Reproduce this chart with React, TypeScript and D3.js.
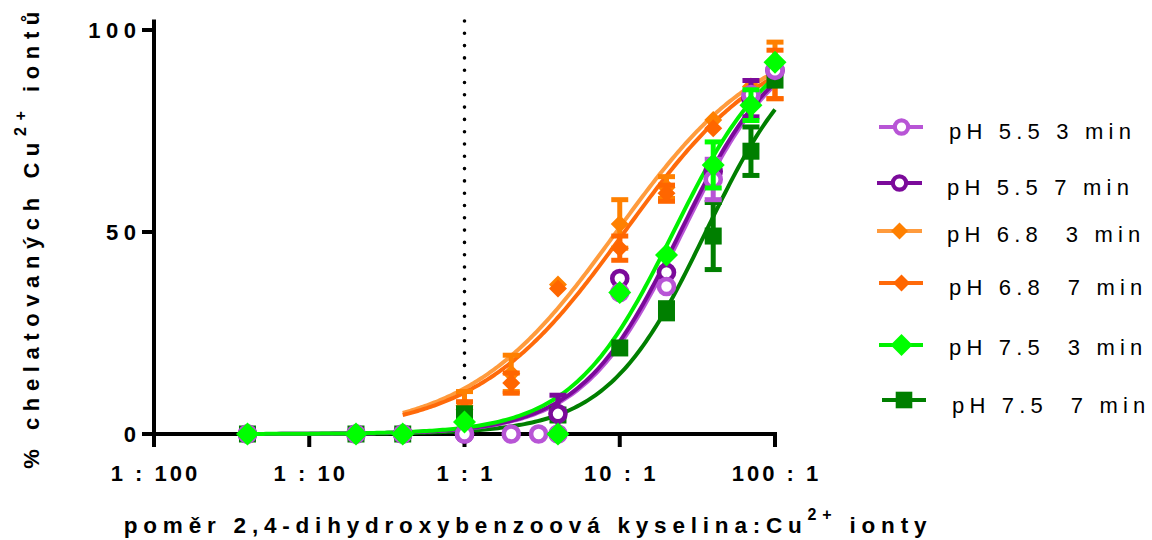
import React from 'react';
import * as d3 from 'd3';

// Molar ratio ligand : Cu2+ at which each sample was measured
const ratios = [0.04, 0.2, 0.4, 1, 2, 3, 4, 10, 20, 40, 70, 100];

// % chelated Cu2+ (mean) and error bar half-heights, null = not measured
const ph55_3min = [0, 0, 0, 0, 0, 0, 0, 35, 36.5, 63, 84, 90];
const ph55_3min_err = [0, 0, 0, 0, 0, 0, 0, 0, 0, 5, 0, 0];
const ph55_7min = [0, 0, 0, 0, null, null, 5, 38.5, 40, 65, 83, 90];
const ph55_7min_err = [0, 0, 0, 0, 0, 0, 4.6, 0, 0, 0, 4.5, 0];
const ph68_3min = [null, null, 0, 7, 15, null, 37, 52, 61, 77.7, 86, 90];
const ph68_3min_err = [0, 0, 0, 3.5, 4.5, 0, 0, 6, 2.7, 0, 0, 7];
const ph68_7min = [null, null, 0, 6, 12.6, null, 36, 46, 59.6, 75.7, 85, 89];
const ph68_7min_err = [0, 0, 0, 2, 2.5, 0, 0, 3, 2, 0, 0, 6];
const ph75_3min = [0, 0, 0, 3, null, null, 0, 35, 44.3, 66.6, 81.4, 92];
const ph75_3min_err = [0, 0, 0, 0, 0, 0, 0, 0, 0, 5.7, 3.8, 0];
const ph75_7min = [0, 0, 0, 5, null, null, 4.7, 21.3, 30.5, 49, 70, 87.6];
const ph75_7min_err = [0, 0, 0, 0, 0, 0, 0, 0, 2, 8.3, 6, 0];

// Sigmoidal dose-response fits (bottom 0, top 100): log EC50 and Hill slope
const fitLogEC50 = [1.405, 1.39, 0.978, 1.03, 1.346, 1.554];
const fitHill = [1.35, 1.35, 0.915, 0.915, 1.335, 1.37];

const seriesLabels = ['pH 5.5 3 min', 'pH 5.5 7 min', 'pH 6.8  3 min', 'pH 6.8  7 min', 'pH 7.5  3 min', 'pH 7.5  7 min'];

// Axis ticks
const xTickValues = [0.01, 0.1, 1, 10, 100];
const xTickLabels = ['1 : 100', '1 : 10', '1 : 1', '10 : 1', '100 : 1'];
const yTickValues = [0, 50, 100];

type Shape = 'circle' | 'diamond' | 'square';
interface Series {
  label: string;
  values: (number | null)[];
  err: number[];
  line: string;
  marker: string;
  shape: Shape;
  size: number;
  ec50: number;
  hill: number;
}

const styles = [
  { line: '#B855D6', marker: '#B855D6', shape: 'circle' as Shape, size: 9.8 },
  { line: '#7B0A9A', marker: '#7B0A9A', shape: 'circle' as Shape, size: 9.8 },
  { line: '#FF9B3D', marker: '#FF8000', shape: 'diamond' as Shape, size: 9 },
  { line: '#FF6A0A', marker: '#FF6600', shape: 'diamond' as Shape, size: 9 },
  { line: '#00F000', marker: '#00FF00', shape: 'diamond' as Shape, size: 11.5 },
  { line: '#007F00', marker: '#007F00', shape: 'square' as Shape, size: 8.5 },
];

const valueSets = [ph55_3min, ph55_7min, ph68_3min, ph68_7min, ph75_3min, ph75_7min];
const errSets = [ph55_3min_err, ph55_7min_err, ph68_3min_err, ph68_7min_err, ph75_3min_err, ph75_7min_err];

const series: Series[] = seriesLabels.map((label, i) => ({
  label,
  values: valueSets[i],
  err: errSets[i],
  ...styles[i],
  ec50: fitLogEC50[i],
  hill: fitHill[i],
}));

const FONT = "Arial, 'Liberation Sans', sans-serif";

const xScale = d3.scaleLog().domain([0.01, 100]).range([154, 775]);
const yScale = d3.scaleLinear().domain([0, 100]).range([434, 30]);

function fitCurve(s: Series): [number, number][] {
  const xs = ratios.filter((_, i) => s.values[i] !== null);
  const lo = Math.log10(d3.min(xs)!);
  const hi = Math.log10(d3.max(xs)!);
  return d3.range(0, 201).map((k) => {
    const lx = lo + ((hi - lo) * k) / 200;
    const v = 100 / (1 + Math.pow(10, (s.ec50 - lx) * s.hill));
    return [Math.pow(10, lx), v];
  });
}

const lineGen = d3
  .line<[number, number]>()
  .x((d) => xScale(d[0]))
  .y((d) => yScale(d[1]))
  .curve(d3.curveLinear);

function Marker({ shape, cx, cy, size, color }: { shape: Shape; cx: number; cy: number; size: number; color: string }) {
  if (shape === 'circle') {
    // size = outer radius of the ring
    const sw = size * 0.47;
    return <circle cx={cx} cy={cy} r={size - sw / 2} fill="white" stroke={color} strokeWidth={sw} />;
  }
  if (shape === 'diamond') {
    const d = `M${cx},${cy - size}L${cx + size},${cy}L${cx},${cy + size}L${cx - size},${cy}Z`;
    return <path d={d} fill={color} />;
  }
  return <rect x={cx - size} y={cy - size} width={size * 2} height={size * 2} fill={color} />;
}

// Legend layout: row centre y, line start/end, marker x, text x, text baseline
const legendRows = [
  { cy: 127, x0: 879, x1: 923, mx: 901.5, tx: 949, ty: 139 },
  { cy: 183, x0: 877, x1: 922, mx: 899.5, tx: 947, ty: 195 },
  { cy: 231, x0: 877, x1: 922, mx: 899.5, tx: 947, ty: 242 },
  { cy: 283, x0: 879, x1: 923, mx: 901.5, tx: 949, ty: 295 },
  { cy: 345, x0: 879, x1: 923, mx: 901.5, tx: 949, ty: 355 },
  { cy: 400, x0: 882, x1: 926, mx: 904, tx: 952, ty: 413 },
];
const legendSizes = [8.7, 8.7, 8.5, 8.5, 11, 8.3];

// Order in which point sets are stacked (last on top)
const pointOrder = [2, 3, 5, 1, 0, 4];
const curveOrder = [2, 3, 5, 0, 1, 4];

export default function App() {
  const axisY0 = yScale(0);
  return (
    <svg
      width={1152}
      height={540}
      viewBox="0 0 1152 540"
      style={{ position: 'absolute', left: 0, top: 0, background: 'white' }}
    >
      <rect x={0} y={0} width={1152} height={540} fill="white" />

      {/* reference line at equimolar ratio */}
      <line
        x1={xScale(1)}
        x2={xScale(1)}
        y1={21}
        y2={axisY0}
        stroke="black"
        strokeWidth={3.6}
        strokeLinecap="round"
        strokeDasharray="0 12.3"
      />

      {/* axes */}
      <line x1={154} x2={154} y1={yScale(102.6)} y2={447} stroke="black" strokeWidth={4} />
      <line x1={142} x2={777} y1={axisY0} y2={axisY0} stroke="black" strokeWidth={4} />
      {yTickValues.map((v) => (
        <g key={`yt${v}`}>
          <line x1={142} x2={154} y1={yScale(v)} y2={yScale(v)} stroke="black" strokeWidth={4} />
          <text
            x={136 + 5.5}
            y={yScale(v) + 8}
            textAnchor="end"
            fontFamily={FONT}
            fontWeight="bold"
            fontSize={22}
            letterSpacing={5.5}
          >
            {v}
          </text>
        </g>
      ))}
      {xTickValues.map((v, i) => (
        <g key={`xt${v}`}>
          <line x1={xScale(v)} x2={xScale(v)} y1={axisY0} y2={447} stroke="black" strokeWidth={4} />
          <text
            x={xScale(v) + 1.5}
            y={481}
            textAnchor="middle"
            fontFamily={FONT}
            fontWeight="bold"
            fontSize={22}
            letterSpacing={3}
            style={{ whiteSpace: 'pre' }}
          >
            {xTickLabels[i]}
          </text>
        </g>
      ))}

      {/* axis titles */}
      <text
        x={528}
        y={533}
        textAnchor="middle"
        fontFamily={FONT}
        fontWeight="bold"
        fontSize={22.5}
        letterSpacing={5.8}
      >
        <tspan>poměr 2,4-dihydroxybenzoová kyselina:Cu</tspan>
        <tspan fontSize={16} dy={-13}>2+</tspan>
        <tspan dy={13}> ionty</tspan>
      </text>
      <text
        transform="translate(39,237) rotate(-90)"
        textAnchor="middle"
        fontFamily={FONT}
        fontWeight="bold"
        fontSize={22}
        letterSpacing={6.6}
      >
        <tspan>% chelatovaných Cu</tspan>
        <tspan fontSize={16} dy={-13}>2+</tspan>
        <tspan dy={13}> iontů</tspan>
      </text>

      {/* fitted curves */}
      {curveOrder.map((si) => {
        const s = series[si];
        return (
          <path key={`c${si}`} d={lineGen(fitCurve(s)) || ''} fill="none" stroke={s.line} strokeWidth={4} />
        );
      })}

      {/* error bars and points */}
      {pointOrder.map((si) => {
        const s = series[si];
        return (
          <g key={`p${si}`}>
            {ratios.map((r, i) => {
              const v = s.values[i];
              if (v === null) return null;
              const e = s.err[i];
              const cx = xScale(r);
              if (!e) return null;
              return (
                <g key={`e${i}`} stroke={s.marker} strokeWidth={5}>
                  <line x1={cx} x2={cx} y1={yScale(v - e)} y2={yScale(v + e)} />
                  <line x1={cx - 8.5} x2={cx + 8.5} y1={yScale(v - e)} y2={yScale(v - e)} />
                  <line x1={cx - 8.5} x2={cx + 8.5} y1={yScale(v + e)} y2={yScale(v + e)} />
                </g>
              );
            })}
            {ratios.map((r, i) => {
              const v = s.values[i];
              if (v === null) return null;
              return (
                <Marker key={`m${i}`} shape={s.shape} cx={xScale(r)} cy={yScale(v)} size={s.size} color={s.marker} />
              );
            })}
          </g>
        );
      })}

      {/* legend */}
      {series.map((s, i) => {
        const row = legendRows[i];
        return (
          <g key={`lg${i}`}>
            <line x1={row.x0} x2={row.x1} y1={row.cy} y2={row.cy} stroke={s.line} strokeWidth={4} />
            <Marker shape={s.shape} cx={row.mx} cy={row.cy} size={legendSizes[i]} color={s.marker} />
            <text
              x={row.tx}
              y={row.ty}
              fontFamily={FONT}
              fontSize={22}
              letterSpacing={5.2}
              style={{ whiteSpace: 'pre' }}
            >
              {s.label}
            </text>
          </g>
        );
      })}
    </svg>
  );
}
